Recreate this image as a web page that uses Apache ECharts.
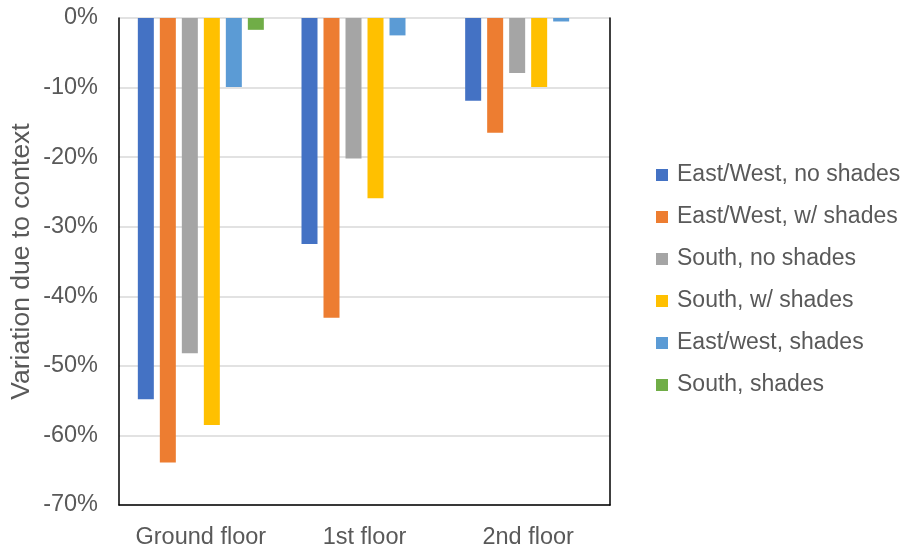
<!DOCTYPE html>
<html>
<head>
<meta charset="utf-8">
<script src="https://cdn.jsdelivr.net/npm/echarts@6/dist/echarts.min.js"></script>
<style>html,body{margin:0;padding:0;background:#fff;}#c{width:906px;height:548px;}</style>
</head>
<body>
<div id="c"></div>
<script>
var categories = ['Ground floor', '1st floor', '2nd floor'];
var seriesNames = ['East/West, no shades', 'East/West, w/ shades', 'South, no shades', 'South, w/ shades', 'East/west, shades', 'South, shades'];
var eastWestNoShades = [-54.8, -32.5, -11.9];
var eastWestWithShades = [-63.9, -43.1, -16.5];
var southNoShades = [-48.2, -20.2, -7.9];
var southWithShades = [-58.5, -25.9, -9.9];
var eastWestShades = [-9.9, -2.5, -0.5];
var southShades = [-1.7, 0, 0];
var colors = ['#4472C4', '#ED7D31', '#A5A5A5', '#FFC000', '#5B9BD5', '#70AD47'];

var allData = [eastWestNoShades, eastWestWithShades, southNoShades, southWithShades, eastWestShades, southShades];
var font = 'Liberation Sans, Arial, sans-serif';
var chart = echarts.init(document.getElementById('c'));
chart.setOption({
  animation: false,
  grid: {left: 119, right: 296, top: 18, bottom: 43, containLabel: false, outerBoundsMode: 'none'},
  legend: {
    orient: 'vertical', left: 651, top: 158,
    itemWidth: 12, itemHeight: 12, itemGap: 18,
    icon: 'rect',
    textStyle: {fontFamily: font, fontSize: 23, color: '#595959', lineHeight: 24, padding: [0, 0, 0, 4]},
    data: seriesNames
  },
  xAxis: {
    type: 'category', data: categories, position: 'bottom',
    axisLine: {onZero: false, lineStyle: {color: '#000', width: 1.5}},
    axisTick: {show: false},
    axisLabel: {interval: 0, fontFamily: font, fontSize: 23.5, color: '#595959', margin: 21}
  },
  yAxis: [{
    type: 'value', min: -70, max: 0, interval: 10,
    name: 'Variation due to context', nameLocation: 'middle', nameGap: 84,
    nameMoveOverlap: false,
    nameTextStyle: {fontFamily: font, fontSize: 26.5, color: '#595959'},
    axisLine: {show: true, lineStyle: {color: '#000', width: 1.5}},
    axisTick: {show: false},
    axisLabel: {fontFamily: font, fontSize: 23.5, color: '#595959', margin: 21, formatter: function(v){return v + '%';}},
    splitLine: {lineStyle: {color: '#d9d9d9', width: 1.5}}
  }, {
    type: 'value', min: -70, max: 0, interval: 10, position: 'right',
    axisLine: {show: true, lineStyle: {color: '#000', width: 1.5}},
    axisTick: {show: false}, axisLabel: {show: false}, splitLine: {show: false}
  }],
  series: seriesNames.map(function(n, i){
    return {
      name: n, type: 'bar', data: allData[i], barWidth: 16, barGap: '37.5%',
      itemStyle: {color: colors[i]}
    };
  })
});
</script>
</body>
</html>
